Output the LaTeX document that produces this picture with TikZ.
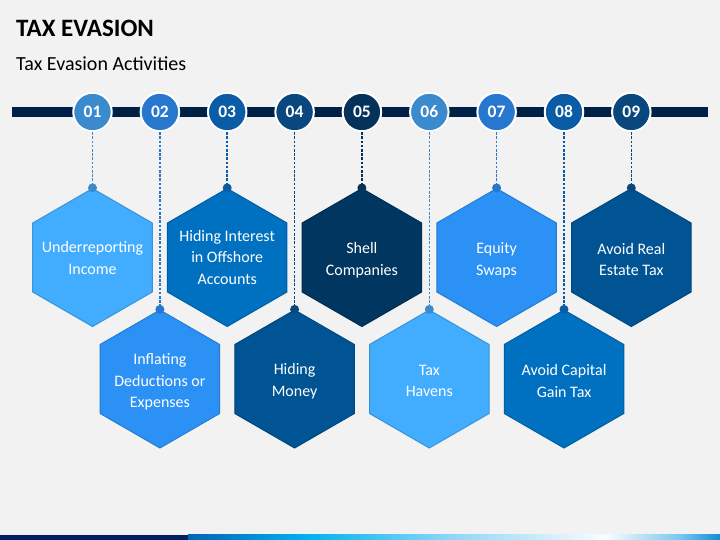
\documentclass[tikz,border=0pt]{standalone}
\usepackage{fontspec}
\setmainfont{Carlito}
\usetikzlibrary{shapes.geometric,shadows}
\definecolor{bg}{RGB}{242,242,242}
\definecolor{barnavy}{RGB}{0,33,71}
\definecolor{navyb}{RGB}{0,32,96}
\definecolor{cA}{RGB}{58,138,205}
\definecolor{cB}{RGB}{39,119,207}
\definecolor{cC}{RGB}{11,92,166}
\definecolor{cD}{RGB}{10,71,127}
\definecolor{cE}{RGB}{5,50,89}
\definecolor{hA}{RGB}{66,173,255}
\definecolor{hB}{RGB}{43,145,245}
\definecolor{hC}{RGB}{0,112,192}
\definecolor{hD}{RGB}{0,84,147}
\definecolor{hE}{RGB}{0,54,96}
\definecolor{gA}{RGB}{0,100,180}
\definecolor{gB}{RGB}{0,176,240}
\definecolor{gC}{RGB}{140,215,245}
\definecolor{gD}{RGB}{250,252,255}
\definecolor{gE}{RGB}{120,200,240}
\definecolor{gF}{RGB}{20,140,215}
\pgfdeclarehorizontalshading{bottomgrad}{100bp}{color(0bp)=(gA); color(25bp)=(gA); color(36bp)=(gB); color(49.6bp)=(gC); color(64.2bp)=(gD); color(71.2bp)=(gE); color(75bp)=(gF); color(100bp)=(gF)}
\tikzset{
  hexbox/.style={regular polygon, regular polygon sides=6, shape border rotate=30,
    minimum size=138pt, inner sep=0pt, line width=1pt},
  hextext/.style={inner sep=0pt, text=white, align=center,
    font=\fontsize{16}{21.7}\selectfont},
  numc/.style={circle, minimum size=38.5pt, inner sep=0pt, draw=white, line width=2pt,
    text=white, font=\bfseries\fontsize{17.5}{18}\selectfont,
    drop shadow={shadow xshift=0pt, shadow yshift=-1pt, opacity=0.25, fill=black}},
  dotn/.style={circle, inner sep=0pt, minimum size=9pt},
  dashline/.style={line width=1.6pt, dash pattern=on 2.6pt off 1.6pt}
}
\begin{document}
\begin{tikzpicture}[x=1pt,y=-1pt]
\fill[bg] (0,0) rectangle (720,540);
\useasboundingbox (0,0) rectangle (720,540);
\node[anchor=base west, inner sep=0pt, font=\bfseries\fontsize{25}{30}\selectfont] (title) at (16,36.7) {TAX EVASION};
\node[anchor=base west, inner sep=0pt, font=\fontsize{20}{24}\selectfont] (subtitle) at (16,71) {Tax Evasion Activities};
\fill[barnavy] (12,107.3) rectangle (707.7,116.7);
\foreach \i/\cx/\cy/\k/\dy/\txt in {
  1/92.5/257.5/A/0.5/{\fontsize{16}{19}\selectfont Underreporting\\Income},
  2/159.9/379/B/3/{Inflating\\Deductions or\\Expenses},
  3/227.2/257.5/C/0/{Hiding Interest\\in Offshore\\Accounts},
  4/294.6/379/D/2/{Hiding\\Money},
  5/361.9/257.5/E/3/{Shell\\Companies},
  6/429.3/379/A/2/{Tax\\Havens},
  7/496.6/257.5/B/3/{Equity\\Swaps},
  8/564/379/C/2/{Avoid Capital\\Gain Tax},
  9/631.3/257.5/D/2/{Avoid Real\\Estate Tax}}{
  \node[hexbox, fill=h\k, draw=h\k!85!black] (h\i) at (\cx,\cy) {};
  \node[hextext] (t\i) at (\cx,{\cy+\dy}) {\txt};
  \node[dotn, fill=c\k] (d\i) at (h\i.north) {};
  \node[numc, fill=c\k] (c\i) at (\cx,112) {0\i};
  \draw[dashline, draw=c\k] (c\i.south) -- (d\i.center);
}
\fill[navyb] (0,534.7) rectangle (188,540);
\shade[shading=bottomgrad] (188,534.7) rectangle (720,540);
\end{tikzpicture}
\end{document}
